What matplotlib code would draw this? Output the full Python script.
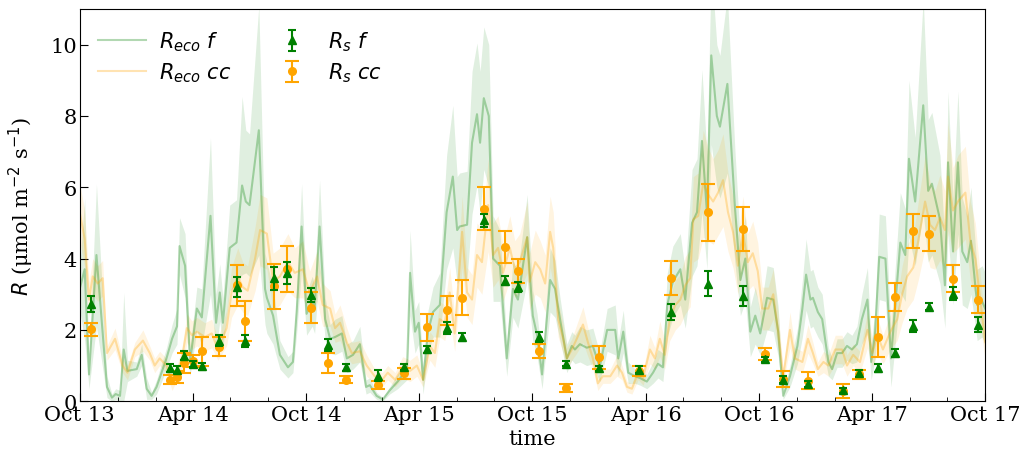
import numpy as np
import pandas as pd
import matplotlib
matplotlib.use("Agg")
import matplotlib.pyplot as plt
import matplotlib.dates as mdates

plt.rcParams['font.family'] = ['DejaVu Serif']
plt.rcParams['font.size'] = 15

START = pd.Timestamp('2013-10-01')

# R_eco forest (days since 2013-10-01, value, band half-width)
g_days = [0, 8, 15, 27, 44, 52, 58, 65, 71, 77, 92, 100, 108, 116, 124, 140, 149, 157, 161, 170,
          178, 189, 197, 211, 220, 226, 231, 242, 253, 262, 268, 274, 289, 299, 302, 312, 323, 336, 344, 350,
          358, 366, 375, 379, 387, 396, 404, 412, 423, 431, 441, 452, 462, 468, 479, 489, 500, 513, 528, 533,
          541, 547, 554, 562, 570, 581, 592, 602, 609, 613, 625, 633, 641, 646, 652, 660, 667, 678, 689, 699,
          707, 722, 731, 738, 746, 759, 767, 775, 786, 794, 799, 807, 818, 828, 839, 851, 864, 869, 877, 885,
          896, 904, 915, 925, 933, 941, 948, 957, 969, 977, 988, 996, 1004, 1012, 1019, 1028, 1033, 1045, 1057, 1066,
          1074, 1082, 1090, 1098, 1109, 1119, 1127, 1135, 1146, 1158, 1166, 1172, 1179, 1183, 1191, 1198, 1208, 1214, 1222, 1230,
          1238, 1246, 1254, 1262, 1271, 1277, 1283, 1290, 1300, 1309, 1324, 1332, 1338, 1348, 1361, 1369, 1375, 1388, 1396, 1401,
          1409, 1417, 1424, 1432, 1438, 1448, 1456, 1461]
g_vals = [3.15, 3.7, 0.75, 4.1, 0.4, 0.1, 0.2, 0.15, 1.45, 0.85, 0.9, 1.3, 0.35, 0.15, 0.4, 1.2, 1.75, 2.1, 4.35, 3.8,
          1.1, 2.6, 2.35, 5.2, 2.2, 3.05, 2.2, 4.3, 4.45, 6.05, 5.6, 5.5, 7.6, 3.15, 2.9, 2.4, 1.3, 0.95, 1.1, 2.5,
          4.9, 2.45, 2.8, 2.6, 4.9, 2.3, 1.75, 1.8, 1.9, 1.2, 1.3, 1.6, 0.4, 0.45, 0.15, 0.05, 0.3, 0.55, 0.9, 3.6,
          1.95, 2.2, 0.6, 1.95, 2.5, 2.7, 5.3, 6.3, 4.8, 4.9, 4.95, 7.25, 8.05, 7.25, 8.5, 8.0, 4.0, 3.8, 1.2, 3.15,
          2.85, 4.6, 2.4, 1.85, 0.75, 3.4, 3.15, 2.3, 1.2, 1.55, 1.45, 1.6, 1.5, 1.55, 0.95, 2.0, 2.0, 1.2, 1.95, 0.8,
          0.7, 0.65, 0.55, 0.8, 1.05, 0.95, 2.7, 3.35, 3.7, 2.85, 5.0, 5.3, 7.3, 5.3, 9.7, 8.0, 7.7, 8.9, 5.5, 3.4,
          4.0, 1.95, 2.4, 1.9, 2.9, 2.85, 1.95, 0.15, 0.7, 1.55, 2.6, 3.55, 2.85, 2.9, 2.5, 2.3, 1.1, 0.9, 1.35, 1.35,
          1.55, 1.45, 1.6, 2.3, 2.85, 1.1, 1.85, 4.05, 4.0, 1.2, 4.45, 4.1, 6.8, 5.6, 8.3, 5.9, 6.1, 5.1, 3.25, 6.7,
          4.2, 6.7, 4.2, 3.9, 4.5, 2.7, 2.8, 2.6]
g_sig = [0.6, 2.0, 0.4, 2.0, 0.3, 0.1, 0.15, 0.15, 1.6, 0.3, 0.2, 0.3, 0.3, 0.1, 0.2, 0.3, 0.4, 0.5, 0.8, 0.9,
         0.4, 0.6, 0.8, 2.2, 0.8, 0.8, 0.7, 1.2, 1.2, 2.5, 2.0, 2.0, 3.5, 1.0, 1.0, 0.8, 0.4, 0.3, 0.3, 0.6,
         1.2, 0.6, 0.7, 0.7, 1.3, 0.6, 0.4, 0.5, 0.5, 0.4, 0.4, 0.5, 0.2, 0.2, 0.1, 0.05, 0.1, 0.2, 0.3, 1.2,
         0.6, 0.6, 0.4, 0.6, 0.7, 0.9, 1.6, 2.0, 1.5, 1.5, 1.5, 2.0, 2.0, 2.0, 2.0, 2.0, 1.2, 1.0, 0.5, 0.8,
         0.8, 1.2, 0.7, 0.6, 0.4, 0.9, 0.8, 0.6, 0.4, 0.4, 0.4, 0.5, 0.5, 0.5, 0.4, 0.6, 0.7, 0.5, 0.6, 0.3,
         0.2, 0.2, 0.2, 0.3, 0.4, 0.4, 0.9, 1.0, 1.0, 0.8, 1.5, 1.5, 2.0, 1.6, 2.5, 2.0, 2.0, 2.5, 1.6, 1.0,
         1.2, 0.7, 0.8, 0.6, 0.9, 0.9, 0.7, 0.1, 0.3, 0.5, 0.8, 1.0, 0.8, 0.8, 0.7, 0.7, 0.4, 0.3, 0.4, 0.4,
         0.4, 0.4, 0.5, 0.7, 0.9, 0.5, 0.7, 1.2, 1.2, 0.8, 1.4, 1.3, 2.2, 1.8, 3.0, 2.0, 2.0, 1.8, 1.2, 2.0,
         1.5, 2.0, 1.5, 1.3, 1.5, 1.0, 1.0, 1.0]

# R_eco clear-cut
o_days = [0, 8, 15, 21, 29, 37, 44, 57, 69, 77, 89, 102, 113, 121, 129, 140, 149, 157, 165, 173,
          181, 189, 202, 213, 223, 237, 245, 255, 263, 271, 283, 291, 302, 312, 323, 336, 347, 360, 371, 383,
          392, 404, 412, 420, 431, 439, 452, 463, 476, 488, 497, 509, 521, 533, 544, 554, 565, 573, 581, 589,
          597, 605, 617, 625, 633, 641, 649, 659, 667, 675, 683, 694, 702, 710, 722, 726, 735, 743, 751, 759,
          764, 772, 780, 786, 794, 802, 812, 820, 828, 836, 844, 856, 867, 875, 883, 891, 901, 909, 920, 928,
          936, 944, 952, 961, 969, 977, 985, 990, 998, 1006, 1014, 1022, 1030, 1038, 1046, 1054, 1062, 1070, 1078, 1086,
          1094, 1101, 1111, 1119, 1127, 1135, 1146, 1154, 1166, 1175, 1183, 1191, 1200, 1208, 1219, 1230, 1238, 1248, 1259, 1271,
          1279, 1287, 1296, 1308, 1319, 1327, 1335, 1345, 1353, 1364, 1372, 1380, 1388, 1396, 1401, 1409, 1417, 1429, 1437, 1445,
          1453, 1461]
o_vals = [5.3, 4.55, 2.85, 3.5, 3.3, 3.45, 1.35, 1.75, 1.0, 0.8, 1.45, 1.7, 1.35, 1.0, 1.2, 1.0, 0.5, 0.8, 1.2, 2.05,
          1.85, 1.95, 1.8, 1.9, 1.45, 2.05, 3.05, 3.5, 3.2, 3.1, 4.0, 4.8, 4.7, 3.35, 3.5, 3.9, 3.6, 3.7, 3.05, 3.5,
          2.7, 2.6, 2.05, 2.2, 1.65, 1.35, 1.4, 1.0, 0.7, 0.6, 0.8, 0.6, 0.95, 0.85, 1.0, 0.6, 1.55, 1.35, 2.3, 2.2,
          3.05, 1.9, 4.75, 3.05, 2.85, 4.1, 3.9, 5.5, 4.1, 4.3, 3.6, 4.3, 3.7, 3.9, 4.6, 3.35, 3.9, 3.7, 3.3, 4.75,
          4.3, 2.3, 1.75, 1.2, 1.45, 1.75, 2.15, 1.65, 1.2, 0.5, 0.7, 0.7, 1.0, 0.8, 0.4, 0.35, 0.8, 0.65, 1.45, 1.2,
          1.75, 1.3, 2.3, 2.7, 2.85, 3.25, 3.45, 5.1, 5.2, 6.1, 5.8, 5.6, 5.85, 6.2, 5.3, 4.75, 3.8, 4.75, 3.9, 4.15,
          3.65, 2.6, 2.6, 3.0, 1.95, 0.7, 2.0, 1.2, 1.1, 1.75, 1.35, 0.9, 1.1, 1.0, 1.45, 1.45, 1.0, 1.3, 1.1, 2.0,
          1.35, 1.85, 1.45, 1.95, 2.3, 3.0, 3.5, 3.75, 4.5, 5.6, 4.95, 4.8, 5.15, 4.8, 6.3, 5.35, 5.6, 5.85, 4.5, 4.0,
          2.85, 1.65]
o_sig = [0.8, 0.8, 0.5, 0.5, 0.5, 0.5, 0.2, 0.3, 0.2, 0.2, 0.2, 0.3, 0.2, 0.2, 0.2, 0.2, 0.2, 0.2, 0.3, 0.4,
         0.4, 0.4, 0.4, 0.4, 0.3, 0.5, 0.7, 0.8, 0.7, 0.7, 0.9, 1.0, 1.0, 0.8, 0.8, 0.8, 0.7, 0.8, 0.6, 0.7,
         0.6, 0.5, 0.4, 0.5, 0.4, 0.3, 0.3, 0.3, 0.2, 0.2, 0.2, 0.2, 0.3, 0.3, 0.3, 0.2, 0.4, 0.4, 0.5, 0.5,
         0.7, 0.5, 1.0, 0.7, 0.7, 0.9, 0.9, 1.3, 0.9, 0.9, 0.8, 0.9, 0.8, 0.8, 1.0, 0.8, 0.9, 0.8, 0.8, 1.0,
         1.0, 0.5, 0.4, 0.3, 0.3, 0.4, 0.5, 0.4, 0.3, 0.2, 0.2, 0.2, 0.3, 0.2, 0.15, 0.15, 0.2, 0.2, 0.4, 0.3,
         0.5, 0.4, 0.6, 0.7, 0.7, 0.8, 0.8, 1.2, 1.2, 1.5, 1.3, 1.2, 1.2, 1.3, 1.1, 1.0, 0.8, 1.0, 0.8, 0.9,
         0.8, 0.6, 0.6, 0.7, 0.5, 0.2, 0.5, 0.3, 0.3, 0.4, 0.3, 0.2, 0.3, 0.3, 0.4, 0.4, 0.3, 0.3, 0.3, 0.5,
         0.4, 0.5, 0.4, 0.5, 0.6, 0.8, 0.9, 0.9, 1.1, 1.3, 1.2, 1.1, 1.2, 1.1, 1.5, 1.2, 1.3, 1.3, 1.1, 1.0,
         0.7, 0.5]

# Soil respiration campaigns
s_days = [19, 145, 157, 168, 182, 197, 224, 253, 266, 313, 334, 373, 400, 429, 481, 523, 560, 593, 617, 652,
          686, 707, 741, 785, 838, 902, 954, 1014, 1070, 1106, 1135, 1175, 1232, 1258, 1288, 1316, 1345, 1371, 1409, 1450]
rs_f = [2.72, 0.93, 0.88, 1.28, 1.05, 0.98, 1.7, 3.2, 1.68, 3.45, 3.6, 2.98, 1.58, 0.95, 0.72, 0.95, 1.45, 2.05, 1.8, 5.07,
        3.38, 3.2, 1.8, 1.05, 0.92, 0.88, 2.5, 3.3, 2.95, 1.18, 0.6, 0.48, 0.3, 0.78, 0.93, 1.35, 2.1, 2.65, 3.02, 2.15]
rs_f_err = [0.22, 0.1, 0.1, 0.13, 0.08, 0.1, 0.16, 0.27, 0.17, 0.32, 0.3, 0.2, 0.17, 0.1, 0.15, 0.08, 0.1, 0.17, 0.1, 0.17,
            0.12, 0.15, 0.15, 0.07, 0.07, 0.1, 0.22, 0.35, 0.28, 0.07, 0.1, 0.08, 0.07, 0.1, 0.12, 0.12, 0.17, 0.1, 0.18, 0.2]
rs_cc = [2.02, 0.6, 0.67, 1.07, 1.12, 1.4, 1.53, 3.25, 2.25, 3.22, 3.7, 2.62, 1.07, 0.6, 0.45, 0.78, 2.07, 2.55, 2.9, 5.4,
         4.32, 3.65, 1.4, 0.37, 1.23, 0.85, 3.45, 5.3, 4.82, 1.32, 0.62, 0.58, 0.28, 0.75, 1.8, 2.92, 4.77, 4.7, 3.43, 2.85]
rs_cc_err = [0.18, 0.13, 0.17, 0.27, 0.17, 0.4, 0.27, 0.57, 0.55, 0.64, 0.64, 0.43, 0.27, 0.1, 0.12, 0.15, 0.37, 0.4, 0.49, 0.6,
             0.45, 0.33, 0.2, 0.12, 0.32, 0.14, 0.47, 0.8, 0.62, 0.17, 0.22, 0.25, 0.2, 0.13, 0.55, 0.4, 0.47, 0.5, 0.38, 0.38]

x_start, x_end = '2013-10-01', '2017-10-01'
y_max = 11


def to_dates(days):
    return START + pd.to_timedelta(np.asarray(days, dtype=float), unit='D')


n = min(len(g_days), len(g_vals), len(g_sig))
gd = to_dates(g_days[:n]); gv = np.array(g_vals[:n]); gs = np.array(g_sig[:n])
m = min(len(o_days), len(o_vals), len(o_sig))
od = to_dates(o_days[:m]); ov = np.array(o_vals[:m]); osg = np.array(o_sig[:m])
sd = to_dates(s_days)

fig = plt.figure(figsize=(10.22, 4.56), dpi=100)
ax = fig.add_axes([0.078, 0.118, 0.886, 0.86])

ax.fill_between(gd, np.clip(gv - gs, 0, None), gv + gs, color='green', alpha=0.12, lw=0)
ax.fill_between(od, np.clip(ov - osg, 0, None), ov + osg, color='orange', alpha=0.12, lw=0)
l1, = ax.plot(gd, gv, color='green', alpha=0.3, lw=1.5, label=r'$R_{eco}\ f$')
l2, = ax.plot(od, ov, color='orange', alpha=0.3, lw=1.5, label=r'$R_{eco}\ cc$')

e1 = ax.errorbar(sd, rs_f, yerr=rs_f_err, fmt='^', color='green', ms=6, capsize=3,
                 elinewidth=1.5, capthick=1.5, label=r'$R_s\ f$', zorder=5)
e2 = ax.errorbar(sd, rs_cc, yerr=rs_cc_err, fmt='o', color='orange', ms=5.5, capsize=5,
                 elinewidth=1.5, capthick=1.5, label=r'$R_s\ cc$', zorder=4)

ax.set_xlim(pd.Timestamp(x_start), pd.Timestamp(x_end))
ax.set_ylim(0, y_max)
ax.xaxis.set_major_locator(mdates.MonthLocator(bymonth=[4, 10]))
ax.xaxis.set_major_formatter(mdates.DateFormatter('%b %y'))
ax.xaxis.set_minor_locator(mdates.MonthLocator(bymonth=[2, 4, 6, 8, 10, 12]))
ax.yaxis.set_major_locator(plt.MultipleLocator(2))
ax.tick_params(which='both', direction='in')
ax.tick_params(which='major', length=6)
ax.tick_params(which='minor', length=3)
ax.tick_params(axis='x', labelsize=15, pad=3)
ax.tick_params(axis='y', labelsize=15, pad=2)
ax.set_xlabel('time', fontsize=15, labelpad=3)
ax.set_ylabel(r'$R$ (μmol m$^{-2}$ s$^{-1}$)', fontsize=15, labelpad=10)

ax.legend(handles=[l1, l2, e1, e2], ncol=2, loc='upper left', frameon=False,
          fontsize=15, bbox_to_anchor=(0.0, 0.995), columnspacing=1.75, handlelength=2.3,
          handletextpad=0.6, labelspacing=0.35)

fig.savefig('out.png', dpi=100)
